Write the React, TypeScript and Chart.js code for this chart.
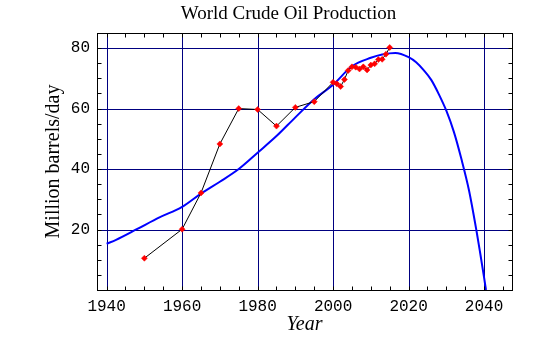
import React, { useEffect, useRef } from "react";
import { Chart, registerables } from "chart.js";

Chart.register(...registerables);

const titleText = "World Crude Oil Production";
const xTitle = "Year";
const yTitle = "Million barrels/day";

const obsYears = [1950, 1960, 1965, 1970, 1975, 1980, 1985, 1990, 1995, 2000, 2001, 2002, 2003, 2004, 2005, 2006, 2007, 2008, 2009, 2010, 2011, 2012, 2013, 2014, 2015];
const obsValues = [10.5, 20.1, 32.1, 48.3, 60.0, 59.7, 54.2, 60.4, 62.3, 68.7, 68.2, 67.3, 69.6, 72.6, 73.8, 73.7, 73.1, 73.8, 72.8, 74.4, 74.8, 76.2, 76.3, 78.0, 80.2];

const fitYears = [1940, 1942.5, 1948, 1954, 1960, 1965, 1970, 1975, 1980, 1985, 1990, 1995, 2000, 2005, 2010, 2013, 2016.5, 2020, 2022, 2024, 2026, 2028, 2030, 2032, 2034, 2036, 2038, 2039, 2040, 2040.5];
const fitValues = [15.3, 16.6, 20.1, 24.0, 27.5, 31.9, 35.8, 40.0, 45.4, 50.9, 57.1, 63.1, 67.9, 74.0, 76.8, 77.9, 78.4, 77.0, 75.3, 72.7, 69.5, 64.8, 59.3, 52.3, 43.3, 33.0, 19.5, 12.0, 4.2, 0];

const xMajorTicks = [1940, 1960, 1980, 2000, 2020, 2040];
const yMajorTicks = [20, 40, 60, 80];

const gridPlugin = {
  id: "navyGrid",
  beforeDatasetsDraw(chart: any) {
    const { ctx, chartArea: a, scales } = chart;
    ctx.save();
    ctx.strokeStyle = "#000080";
    ctx.lineWidth = 1;
    ctx.beginPath();
    for (const v of xMajorTicks) {
      const px = Math.round(scales.x.getPixelForValue(v)) + 0.5;
      ctx.moveTo(px, a.top);
      ctx.lineTo(px, a.bottom);
    }
    for (const v of yMajorTicks) {
      const py = Math.round(scales.y.getPixelForValue(v)) + 0.5;
      ctx.moveTo(a.left, py);
      ctx.lineTo(a.right, py);
    }
    ctx.stroke();
    ctx.restore();
  },
};

const frameAndTicks = {
  id: "frameAndTicks",
  afterDraw(chart: any) {
    const { ctx, chartArea: a, scales } = chart;
    const xs = scales.x;
    const ys = scales.y;
    ctx.save();
    ctx.strokeStyle = "#000";
    ctx.lineWidth = 1;
    ctx.beginPath();
    const len = 4;
    const L = Math.round(a.left) + 0.5;
    const R = Math.round(a.right) + 0.5;
    const T = Math.round(a.top) + 0.5;
    const B = Math.round(a.bottom) + 0.5;
    for (let v = Math.ceil(xs.min / 5) * 5; v <= xs.max; v += 5) {
      const px = Math.round(xs.getPixelForValue(v)) + 0.5;
      ctx.moveTo(px, B);
      ctx.lineTo(px, B - len);
      ctx.moveTo(px, T);
      ctx.lineTo(px, T + len);
    }
    for (let v = Math.ceil(ys.min / 5) * 5; v <= ys.max; v += 5) {
      const py = Math.round(ys.getPixelForValue(v)) + 0.5;
      ctx.moveTo(L, py);
      ctx.lineTo(L + len, py);
      ctx.moveTo(R, py);
      ctx.lineTo(R - len, py);
    }
    ctx.stroke();
    ctx.strokeRect(L, T, R - L, B - T);
    ctx.fillStyle = "#000";
    ctx.font = '19px "Liberation Serif"';
    ctx.textAlign = "center";
    ctx.textBaseline = "middle";
    ctx.fillText(titleText, 288.5, 14);
    ctx.restore();
  },
};

export default function App() {
  const ref = useRef<HTMLCanvasElement>(null);
  useEffect(() => {
    const canvas = ref.current!;
    const chart = new Chart(canvas, {
      type: "line",
      data: {
        datasets: [
          {
            label: "Observed",
            data: obsYears.map((x, i) => ({ x, y: obsValues[i] })),
            borderColor: "#000",
            borderWidth: 1,
            pointStyle: "rectRot",
            pointRadius: 3,
            pointBackgroundColor: "#ff0000",
            pointBorderColor: "#ff0000",
            pointBorderWidth: 0.5,
            tension: 0,
            order: 0,
          },
          {
            label: "Fit",
            data: fitYears.map((x, i) => ({ x, y: fitValues[i] })),
            borderColor: "#0000ff",
            borderWidth: 2,
            pointRadius: 0,
            cubicInterpolationMode: "monotone",
            order: 1,
          },
        ],
      },
      options: {
        animation: false,
        responsive: false,
        devicePixelRatio: 1,
        layout: { padding: { left: 42, top: 33, right: 39, bottom: 4 } },
        plugins: { legend: { display: false }, tooltip: { enabled: false }, title: { display: false } },
        scales: {
          x: {
            type: "linear",
            min: 1937.45,
            max: 2047.4,
            afterBuildTicks: (s: any) => {
              s.ticks = xMajorTicks.map((value) => ({ value }));
            },
            afterFit: (s: any) => {
              s.height = 47;
            },
            grid: { display: false, drawTicks: false },
            border: { display: false },
            ticks: {
              font: { family: '"Liberation Mono"', size: 16 },
              color: "#000",
              padding: 7,
              maxRotation: 0,
              autoSkip: false,
              callback: (v: any) => String(v),
            },
            title: {
              display: true,
              text: xTitle,
              font: { family: '"Liberation Serif"', size: 20, style: "italic" },
              color: "#000",
              padding: { top: 0, bottom: 0 },
            },
          },
          y: {
            type: "linear",
            min: 0,
            max: 85,
            afterBuildTicks: (s: any) => {
              s.ticks = yMajorTicks.map((value) => ({ value }));
            },
            afterFit: (s: any) => {
              s.width = 55;
            },
            grid: { display: false, drawTicks: false },
            border: { display: false },
            ticks: {
              font: { family: '"Liberation Mono"', size: 16 },
              color: "#000",
              padding: 7,
              autoSkip: false,
              callback: (v: any) => String(v),
            },
            title: {
              display: true,
              text: yTitle,
              font: { family: '"Liberation Serif"', size: 20 },
              color: "#000",
              padding: { top: 0, bottom: 0 },
            },
          },
        },
      },
      plugins: [gridPlugin, frameAndTicks],
    } as any);
    return () => chart.destroy();
  }, []);
  return (
    <canvas
      ref={ref}
      width={551}
      height={341}
      style={{ position: "absolute", left: 0, top: 0, width: 551, height: 341 }}
    />
  );
}
